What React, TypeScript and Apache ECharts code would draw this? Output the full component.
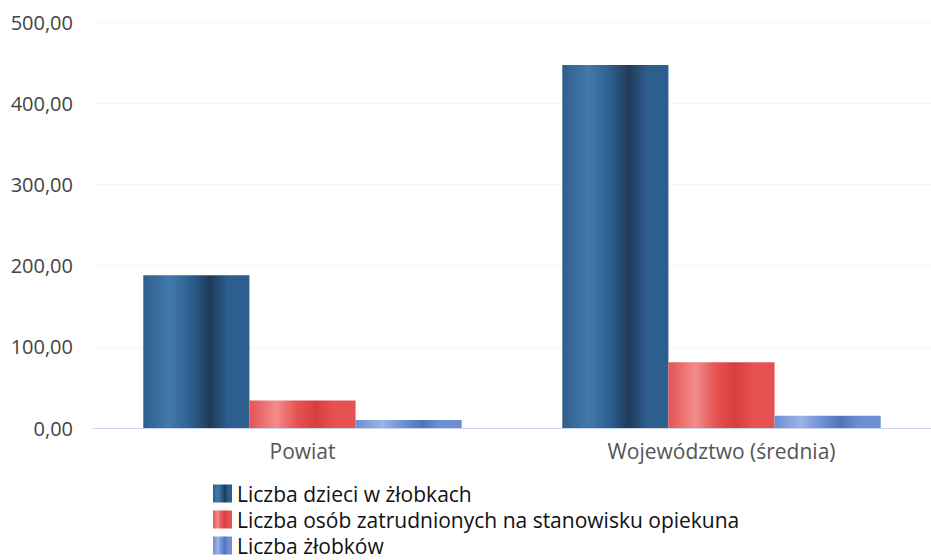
import React, { useEffect, useRef } from "react";
import * as echarts from "echarts";

const categories = ["Powiat", "Województwo (średnia)"];
const seriesNames = [
  "Liczba dzieci w żłobkach",
  "Liczba osób zatrudnionych na stanowisku opiekuna",
  "Liczba żłobków",
];
const dzieci = [188, 447];
const opiekunowie = [34, 81];
const zlobki = [10, 15];
const yTicks = [0, 100, 200, 300, 400, 500];

const cyl = (light: string, base: string, dark: string) =>
  new echarts.graphic.LinearGradient(0, 0, 1, 0, [
    { offset: 0, color: base },
    { offset: 0.25, color: light },
    { offset: 0.45, color: base },
    { offset: 0.63, color: dark },
    { offset: 0.8, color: base },
    { offset: 1, color: base },
  ]);

export default function App() {
  const ref = useRef<HTMLDivElement>(null);
  useEffect(() => {
    if (!ref.current) return;
    const chart = echarts.init(ref.current, undefined, { renderer: "svg" });
    const colors = [
      cyl("#427aac", "#2d5f8e", "#1f3b58"),
      cyl("#f28c8c", "#e65252", "#d83e3e"),
      cyl("#9cb3e4", "#6d8fd2", "#5373bc"),
    ];
    const data = [dzieci, opiekunowie, zlobki];
    chart.setOption({
      animation: false,
      textStyle: { fontFamily: "Open Sans" },
      grid: { left: 93, right: 0, top: 22, bottom: 132, containLabel: false },
      legend: {
        orient: "vertical",
        left: 213,
        top: 483,
        itemWidth: 19,
        itemHeight: 18,
        itemGap: 5,
        icon: "rect",
        padding: 0,
        textStyle: { fontSize: 21, color: "#111", fontWeight: "normal", fontFamily: "Open Sans" },
        data: seriesNames,
      },
      xAxis: {
        type: "category",
        data: categories,
        axisLine: { lineStyle: { color: "#ccd6eb" } },
        axisTick: { show: false },
        axisLabel: { fontSize: 21, color: "#555", margin: 12, fontFamily: "Open Sans" },
      },
      yAxis: {
        type: "value",
        min: yTicks[0],
        max: yTicks[yTicks.length - 1],
        interval: 100,
        axisLabel: {
          fontSize: 20,
          color: "#444",
          margin: 20,
          fontFamily: "Open Sans",
          formatter: (v: number) => v.toFixed(2).replace(".", ","),
        },
        splitLine: { lineStyle: { color: "#f5f5f8" } },
        axisLine: { show: false },
        axisTick: { show: false },
      },
      series: seriesNames.map((name, i) => ({
        name,
        type: "bar",
        data: data[i],
        barGap: "0%",
        barCategoryGap: "24%",
        itemStyle: { color: colors[i] },
      })),
    });
    return () => chart.dispose();
  }, []);
  return (
    <div
      ref={ref}
      style={{ position: "absolute", left: 0, top: 0, width: 931, height: 560 }}
    />
  );
}
